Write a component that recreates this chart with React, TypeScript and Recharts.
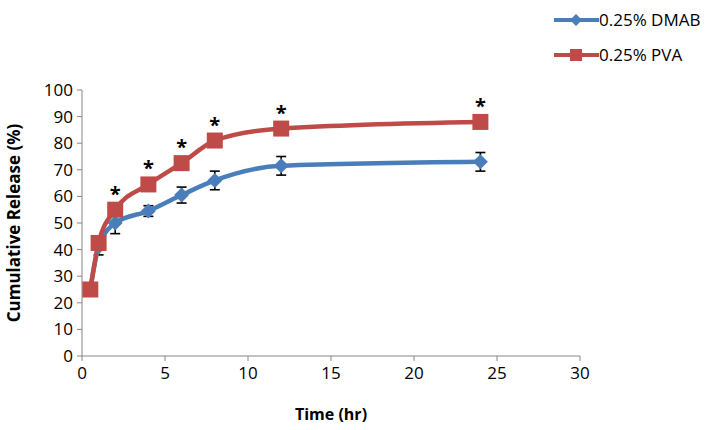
import React from 'react';
import {
  LineChart,
  Line,
  XAxis,
  YAxis,
  ErrorBar,
  LabelList,
} from 'recharts';

const TIMES = [0.5, 1, 2, 4, 6, 8, 12, 24];
const DMAB = [25, 41, 50, 54.5, 60.5, 66, 71.5, 73];
const DMAB_ERR = [0, 3, 4, 2, 3, 3.5, 3.5, 3.5];
const PVA = [25, 42.5, 55, 64.5, 72.5, 81, 85.5, 88];
const PVA_ERR = [0, 1, 1, 1, 1, 1, 1, 1];
const SIG = ['', '', '*', '*', '*', '*', '*', '*'];
const X_TICKS = [0, 5, 10, 15, 20, 25, 30];
const Y_TICKS = [0, 10, 20, 30, 40, 50, 60, 70, 80, 90, 100];

const BLUE = '#4a7ebb';
const RED = '#be4b48';
const FONT = '"Open Sans", "Liberation Sans", sans-serif';

const dmabData = TIMES.map((t, i) => ({ t, v: DMAB[i], err: DMAB_ERR[i] }));
const pvaData = TIMES.map((t, i) => ({ t, v: PVA[i], err: PVA_ERR[i], sig: SIG[i] }));

const Diamond = (props: any) => {
  const { cx, cy } = props;
  if (cx == null || cy == null) return null;
  const r = 7.5;
  return (
    <polygon
      key={`d-${cx}`}
      points={`${cx},${cy - r} ${cx + r},${cy} ${cx},${cy + r} ${cx - r},${cy}`}
      fill={BLUE}
    />
  );
};

const Square = (props: any) => {
  const { cx, cy } = props;
  if (cx == null || cy == null) return null;
  const s = 8;
  return <rect key={`s-${cx}`} x={cx - s} y={cy - s} width={s * 2} height={s * 2} fill={RED} />;
};

const LEGEND = [
  { name: '0.25% DMAB', color: BLUE, kind: 'd' },
  { name: '0.25% PVA', color: RED, kind: 's' },
];

const LegendBox = () => (
  <div
    style={{
      position: 'absolute',
      left: 554,
      top: 2,
      fontFamily: FONT,
      fontSize: 17,
      color: '#000',
    }}
  >
    {LEGEND.map((item) => (
      <div key={item.name} style={{ display: 'flex', alignItems: 'center', height: 35 }}>
        <svg width={45} height={20}>
          <line x1={0} y1={10} x2={45} y2={10} stroke={item.color} strokeWidth={4} />
          {item.kind === 'd' ? (
            <polygon points="22,4 28,10 22,16 16,10" fill={item.color} />
          ) : (
            <rect x={16} y={4} width={12} height={12} fill={item.color} />
          )}
        </svg>
        <span>{item.name}</span>
      </div>
    ))}
  </div>
);

export default function App() {
  return (
    <div style={{ position: 'absolute', left: 0, top: 0, width: 715, height: 430, background: '#fff' }}>
      <LineChart width={715} height={430} margin={{ top: 90, right: 135, left: 0, bottom: 0 }}>
        <XAxis
          type="number"
          dataKey="t"
          domain={[0, 30]}
          ticks={X_TICKS}
          allowDuplicatedCategory={false}
          height={74}
          stroke="#868686"
          tick={{ fill: '#000', fontSize: 17, fontFamily: FONT }}
          tickSize={5}
          tickMargin={6}
          label={{
            value: 'Time (hr)',
            position: 'insideBottom',
            offset: 10,
            style: { fill: '#000', fontSize: 16, fontWeight: 'bold', fontFamily: FONT },
          }}
        />
        <YAxis
          type="number"
          domain={[0, 100]}
          ticks={Y_TICKS}
          width={82}
          stroke="#868686"
          tick={{ fill: '#000', fontSize: 17, fontFamily: FONT }}
          tickSize={5}
          tickMargin={4}
          label={{
            value: 'Cumulative Release (%)',
            angle: -90,
            position: 'insideLeft',
            offset: 14,
            style: { fill: '#000', fontSize: 17, fontWeight: 'bold', fontFamily: FONT, textAnchor: 'middle' },
          }}
        />
        <Line
          data={dmabData}
          dataKey="v"
          name="0.25% DMAB"
          type="monotone"
          stroke={BLUE}
          strokeWidth={4.5}
          dot={<Diamond />}
          activeDot={false}
          isAnimationActive={false}
        >
          <ErrorBar dataKey="err" direction="y" width={5} stroke="#000" strokeWidth={1.6} />
        </Line>
        <Line
          data={pvaData}
          dataKey="v"
          name="0.25% PVA"
          type="monotone"
          stroke={RED}
          strokeWidth={4.5}
          dot={<Square />}
          activeDot={false}
          isAnimationActive={false}
        >
          <ErrorBar dataKey="err" direction="y" width={4} stroke="#000" strokeWidth={1.4} />
          <LabelList
            dataKey="sig"
            position="top"
            offset={9}
            style={{ fill: '#000', fontSize: 20, fontWeight: 'bold', fontFamily: FONT }}
          />
        </Line>
      </LineChart>
      <LegendBox />
    </div>
  );
}
